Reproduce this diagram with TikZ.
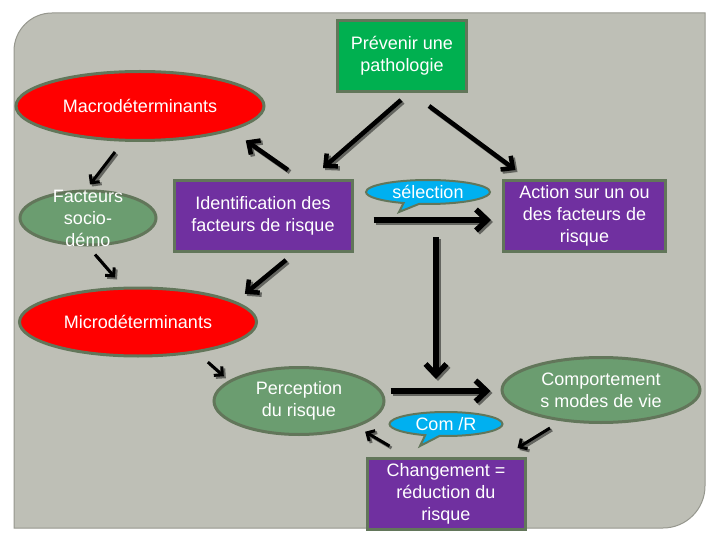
\documentclass[tikz,border=0pt]{standalone}
\usepackage{fontspec}
\setmainfont{Liberation Sans}
\usetikzlibrary{positioning}
\usetikzlibrary{shapes}
\usetikzlibrary{shapes.callouts}
\usetikzlibrary{arrows.meta}
\usetikzlibrary{calc}

\definecolor{panelgray}{RGB}{190,191,182}
\definecolor{paneledge}{RGB}{150,151,142}
\definecolor{edgegreen}{RGB}{98,118,90}
\definecolor{pgreen}{RGB}{0,176,80}
\definecolor{ppurple}{RGB}{112,48,160}
\definecolor{pred}{RGB}{255,0,0}
\definecolor{pellgreen}{RGB}{107,157,112}
\definecolor{pcyan}{RGB}{0,176,240}
\definecolor{shadowgray}{RGB}{100,101,96}

\tikzset{
  txt/.style={text=white, font=\fontsize{18}{22}\selectfont, align=center},
  box/.style={txt, draw=edgegreen, line width=3pt, inner sep=0pt, minimum height=71pt},
  redell/.style={txt, ellipse, draw=edgegreen, line width=3pt, fill=pred, inner sep=0pt},
  greenell/.style={txt, ellipse, draw=edgegreen, line width=3pt, fill=pellgreen, inner sep=0pt},
  bubble/.style={txt, ellipse callout, draw=edgegreen, line width=2pt, fill=pcyan, inner sep=0pt, minimum height=24pt},
  arrshadow/.style={preaction={draw=shadowgray, line width=#1, transform canvas={shift={(2pt,-2pt)}}}},
  bigarr/.style={line width=5.5pt, -{Straight Barb[length=11pt,width=21pt]}, arrshadow=5.5pt},
  midarr/.style={line width=4.5pt, -{Straight Barb[length=9pt,width=17pt]}, arrshadow=4.5pt},
  smallarr/.style={line width=3pt, -{Straight Barb[length=6pt,width=12pt]}, arrshadow=3pt}
}

\begin{document}
\begin{tikzpicture}[x=1pt,y=1pt,yscale=-1,xscale=1]
\useasboundingbox (0,0) rectangle (720,540);

%Background panel
\fill[panelgray, draw=paneledge, line width=1pt] (14,528) -- (14,51) arc[start angle=180,end angle=270,radius=38] -- (705,13) -- (705,486) arc[start angle=0,end angle=90,radius=42] -- cycle;

% Boxes
\node[box, fill=pgreen, minimum width=129pt] (prev) at (402,56) {Prévenir une\\pathologie};
\node[box, fill=ppurple, minimum width=178pt] (ident) at (263,216) {Identification des\\facteurs de risque};
\node[box, fill=ppurple, minimum width=162pt] (action) at (584.5,216) {Action sur un ou\\des facteurs de\\risque};
\node[box, fill=ppurple, minimum width=158pt] (chg) at (446,494) {Changement =\\réduction du\\risque};

% Ellipses
\node[redell, minimum width=248pt, minimum height=69pt] (macro) at (140,106) {Macrodéterminants};
\node[redell, minimum width=237pt, minimum height=68pt] (micro) at (138,322) {Microdéterminants};
\node[greenell, minimum width=136pt, minimum height=54pt] (fact) at (88,218) {};
\node[txt] (facttxt) at (fact) {Facteurs\\socio-\\démo};
\node[greenell, minimum width=170pt, minimum height=67pt] (perc) at (299,401) {Perception\\du risque};
\node[greenell, minimum width=198pt, minimum height=65pt] (comp) at (601,390) {Comportement\\s modes de vie};

% Bubbles
\node[bubble, minimum width=124pt, callout absolute pointer={(399,212)}] (sel) at (428,192) {sélection};
\node[bubble, minimum width=113pt, callout absolute pointer={(420,446)}] (com) at (446,424) {Com /R};

% Arrows
\coordinate (vtop) at (436,237);
\coordinate (vbot) at (436,379);
\draw[midarr] ($(prev.south)+(-1,7)$) -- ($(ident.north)+(60,-11)$);
\draw[midarr] ($(prev.south)+(27,13)$) -- ($(action.north)+(-69,-9)$);
\draw[midarr] ($(ident.north)+(25,-9)$) -- ($(macro.south east)+(17,9)$);
\draw[smallarr] ($(macro.south)+(-25,10)$) -- ($(fact.north)+(2,-5)$);
\draw[smallarr] ($(fact.south)+(7,8)$) -- ($(micro.north)+(-23,-9)$);
\draw[midarr] ($(ident.south)+(23,7)$) -- ($(micro.north east)+(22,-3)$);
\draw[bigarr] ($(ident.east)+(20,4)$) -- ($(action.west)+(-11,4)$);
\draw[bigarr] (vtop) -- (vbot);
\draw[bigarr] ($(perc.east)+(5,-10)$) -- ($(comp.west)+(-10,1)$);
\draw[smallarr] ($(micro.south east)+(-15,15)$) -- ($(perc.north west)+(-14,0)$);
\draw[smallarr] ($(chg.north west)+(24,-11)$) -- ($(perc.south east)+(5,6)$);
\draw[smallarr] ($(comp.south)+(-51,4)$) -- ($(chg.north east)+(-9,-9)$);

\end{tikzpicture}
\end{document}
